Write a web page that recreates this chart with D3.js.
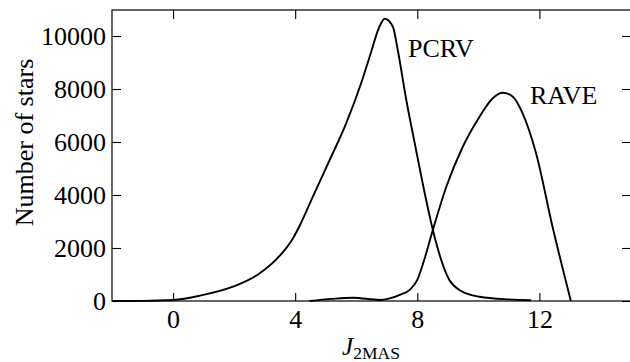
<!DOCTYPE html>
<html>
<head>
<meta charset="utf-8">
<script src="https://cdn.jsdelivr.net/npm/d3@7"></script>
<style>
  html, body { margin: 0; padding: 0; background: #fff; }
  svg { display: block; }
</style>
</head>
<body>
<svg id="chart" width="630" height="362"></svg>
<script>
// ---- data ----
const pcrvX = [-2, -1, 0, 0.87, 1.96, 2.84, 3.49, 3.93, 4.15, 4.58, 5.13, 5.67, 6.16, 6.44, 6.76, 6.93, 7.2, 7.36, 7.64, 7.96, 8.29, 8.51, 9.05, 9.38, 10.04, 11.0, 11.73];
const pcrvY = [0, 5, 40, 200, 540, 1045, 1700, 2370, 2850, 3936, 5320, 6705, 8215, 9220, 10350, 10650, 10350, 9470, 7585, 5700, 3810, 2680, 790, 415, 160, 60, 30];
const raveX = [4.47, 5.2, 5.89, 6.76, 7.1, 7.45, 7.75, 8.0, 8.2, 8.51, 8.95, 9.49, 10.04, 10.47, 10.8, 11.13, 11.45, 11.89, 12.43, 13.03];
const raveY = [0, 80, 125, 40, 100, 240, 420, 800, 1450, 2680, 4310, 5820, 6955, 7650, 7860, 7710, 7080, 5575, 2800, 0];
const xTicks = [0, 4, 8, 12];
const yTicks = [0, 2000, 4000, 6000, 8000, 10000];
const seriesNames = ["PCRV", "RAVE"];

(function () {
const svg = d3.select("#chart");
const mL = 112, mR = 631, mT = 10, mB = 301;
const x = d3.scaleLinear().domain([-2, 15]).range([mL, mR]);
const y = d3.scaleLinear().domain([0, 11000]).range([mB, 9.5]);
const font = "'Liberation Serif', 'Times New Roman', serif";

// frame
svg.append("rect").attr("x", mL).attr("y", mT).attr("width", mR - mL).attr("height", mB - mT)
  .attr("fill", "none").attr("stroke", "#000").attr("stroke-width", 1.2);

function style(g) {
  g.select(".domain").remove();
  g.selectAll("line").attr("stroke", "#000").attr("stroke-width", 1.1);
  g.attr("font-family", font).attr("font-size", 26);
  g.selectAll("text").attr("fill", "#000");
}

svg.append("g").attr("transform", `translate(${mL},0)`)
  .call(d3.axisLeft(y).tickValues(yTicks).tickSize(-9).tickPadding(6).tickFormat(d3.format("d")))
  .call(style);
svg.append("g").attr("transform", `translate(${mR},0)`)
  .call(d3.axisRight(y).tickValues(yTicks).tickSize(-9).tickFormat(""))
  .call(style);
svg.append("g").attr("transform", `translate(0,${mB})`)
  .call(d3.axisBottom(x).tickValues(xTicks).tickSize(-8).tickPadding(9).tickFormat(d3.format("d")))
  .call(style);
svg.append("g").attr("transform", `translate(0,${mT})`)
  .call(d3.axisTop(x).tickValues(xTicks).tickSize(-9).tickFormat(""))
  .call(style);

// curves
const line = d3.line().x(d => x(d[0])).y(d => y(d[1])).curve(d3.curveMonotoneX);
const series = [d3.zip(pcrvX, pcrvY), d3.zip(raveX, raveY)];
svg.selectAll("path.curve").data(series).enter().append("path")
  .attr("class", "curve").attr("d", line)
  .attr("fill", "none").attr("stroke", "#000").attr("stroke-width", 1.9).attr("stroke-linejoin", "round");

// series labels
svg.append("text").attr("x", 408).attr("y", 57).text(seriesNames[0])
  .attr("font-family", font).attr("font-size", 26);
svg.append("text").attr("x", 530).attr("y", 104).text(seriesNames[1])
  .attr("font-family", font).attr("font-size", 26);

// axis titles
svg.append("text").attr("transform", "translate(33,142.5) rotate(-90)").attr("text-anchor", "middle")
  .attr("font-family", font).attr("font-size", 26).text("Number of stars");
const xl = svg.append("text").attr("x", 371).attr("y", 355).attr("text-anchor", "middle")
  .attr("font-family", font).attr("font-size", 25);
xl.append("tspan").attr("font-style", "italic").text("J");
xl.append("tspan").attr("font-size", 17.5).attr("dy", 4).text("2MAS");
})();
</script>
</body>
</html>
